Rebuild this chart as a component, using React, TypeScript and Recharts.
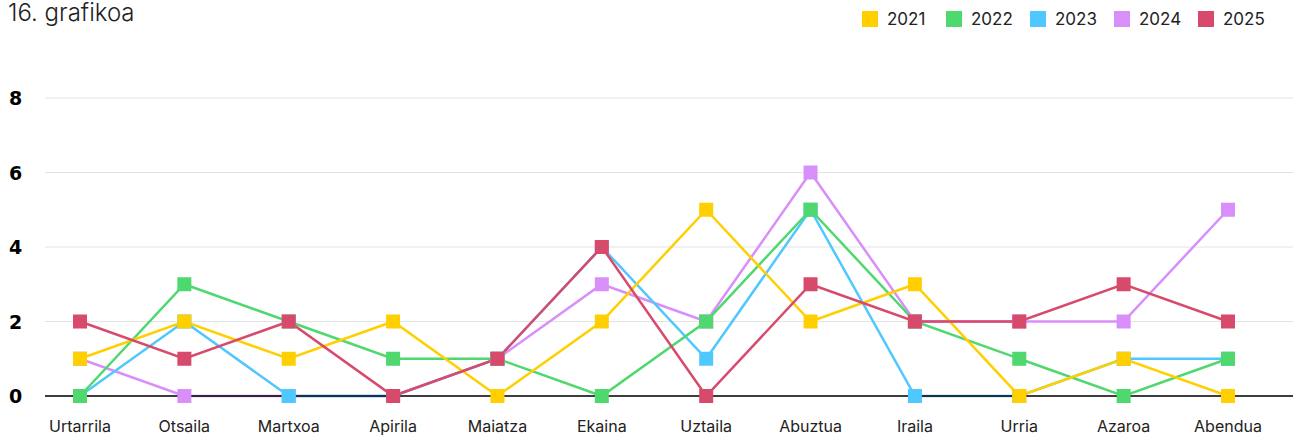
import { LineChart, Line, XAxis, YAxis, CartesianGrid } from "recharts";

const months = [
  "Urtarrila",
  "Otsaila",
  "Martxoa",
  "Apirila",
  "Maiatza",
  "Ekaina",
  "Uztaila",
  "Abuztua",
  "Iraila",
  "Urria",
  "Azaroa",
  "Abendua",
];

const y2021 = [1, 2, 1, 2, 0, 2, 5, 2, 3, 0, 1, 0];
const y2022 = [0, 3, 2, 1, 1, 0, 2, 5, 2, 1, 0, 1];
const y2023 = [0, 2, 0, 0, 1, 4, 1, 5, 0, 0, 1, 1];
const y2024 = [1, 0, 0, 0, 1, 3, 2, 6, 2, 2, 2, 5];
const y2025 = [2, 1, 2, 0, 1, 4, 0, 3, 2, 2, 3, 2];

const yTicks = [0, 2, 4, 6, 8];

const series = [
  { key: "2021", values: y2021, color: "#FFCF00" },
  { key: "2022", values: y2022, color: "#4ED86E" },
  { key: "2023", values: y2023, color: "#4FC8FF" },
  { key: "2024", values: y2024, color: "#D88FFA" },
  { key: "2025", values: y2025, color: "#D84A6C" },
];

// stacking order of the lines as seen in the picture (bottom first)
const drawOrder = ["2024", "2023", "2022", "2021", "2025"];

const data = months.map((m, i) => {
  const row: { [k: string]: string | number } = { month: m };
  series.forEach((s) => {
    row[s.key] = s.values[i];
  });
  return row;
});

const FONT = "Inter, 'Noto Sans', sans-serif";

function SquareDot(props: any) {
  const { cx, cy, stroke } = props;
  if (cx == null || cy == null) return null;
  return <rect x={cx - 7} y={cy - 7} width={14} height={14} fill={stroke} />;
}

function YTick(props: any) {
  const { y, payload } = props;
  return (
    <text
      x={9}
      y={y}
      dy={7}
      textAnchor="start"
      fontFamily="'DejaVu Sans', sans-serif"
      fontWeight={700}
      fontSize={19}
      fill="#000"
    >
      {payload.value}
    </text>
  );
}

export default function App() {
  return (
    <div style={{ position: "absolute", left: 0, top: 0, width: 1294, height: 437 }}>
      <div
        style={{
          position: "absolute",
          left: 8,
          top: -2,
          fontFamily: FONT,
          fontWeight: 300,
          fontSize: 24,
          color: "#222",
        }}
      >
        16. grafikoa
      </div>
      <div
        style={{
          position: "absolute",
          left: 862,
          top: 9,
          display: "flex",
        }}
      >
        {series.map((s) => (
          <div
            key={s.key}
            style={{ display: "flex", alignItems: "center", width: 84 }}
          >
            <div
              style={{
                width: 16,
                height: 16,
                background: s.color,
                marginRight: 9,
              }}
            />
            <span style={{ fontFamily: FONT, fontSize: 17, color: "#222" }}>
              {s.key}
            </span>
          </div>
        ))}
      </div>
      <LineChart
        width={1294}
        height={437}
        data={data}
        margin={{ top: 98, right: 1, bottom: 0, left: 0 }}
      >
        <CartesianGrid vertical={false} stroke="#e3e3e3" />
        <XAxis
          dataKey="month"
          padding={{ left: 35, right: 65 }}
          axisLine={{ stroke: "#000", strokeWidth: 1.5 }}
          tickLine={false}
          tickMargin={19}
          height={41}
          interval={0}
          tick={{ fontFamily: FONT, fontSize: 16, fill: "#222" }}
        />
        <YAxis
          width={45}
          domain={[0, 8]}
          ticks={yTicks}
          axisLine={false}
          tickLine={false}
          tick={<YTick />}
        />
        {drawOrder.map((k) => {
          const s = series.find((x) => x.key === k)!;
          return (
            <Line
              key={s.key}
              dataKey={s.key}
              name={s.key}
              stroke={s.color}
              strokeWidth={2.5}
              dot={<SquareDot />}
              activeDot={false}
              isAnimationActive={false}
            />
          );
        })}
      </LineChart>
    </div>
  );
}
